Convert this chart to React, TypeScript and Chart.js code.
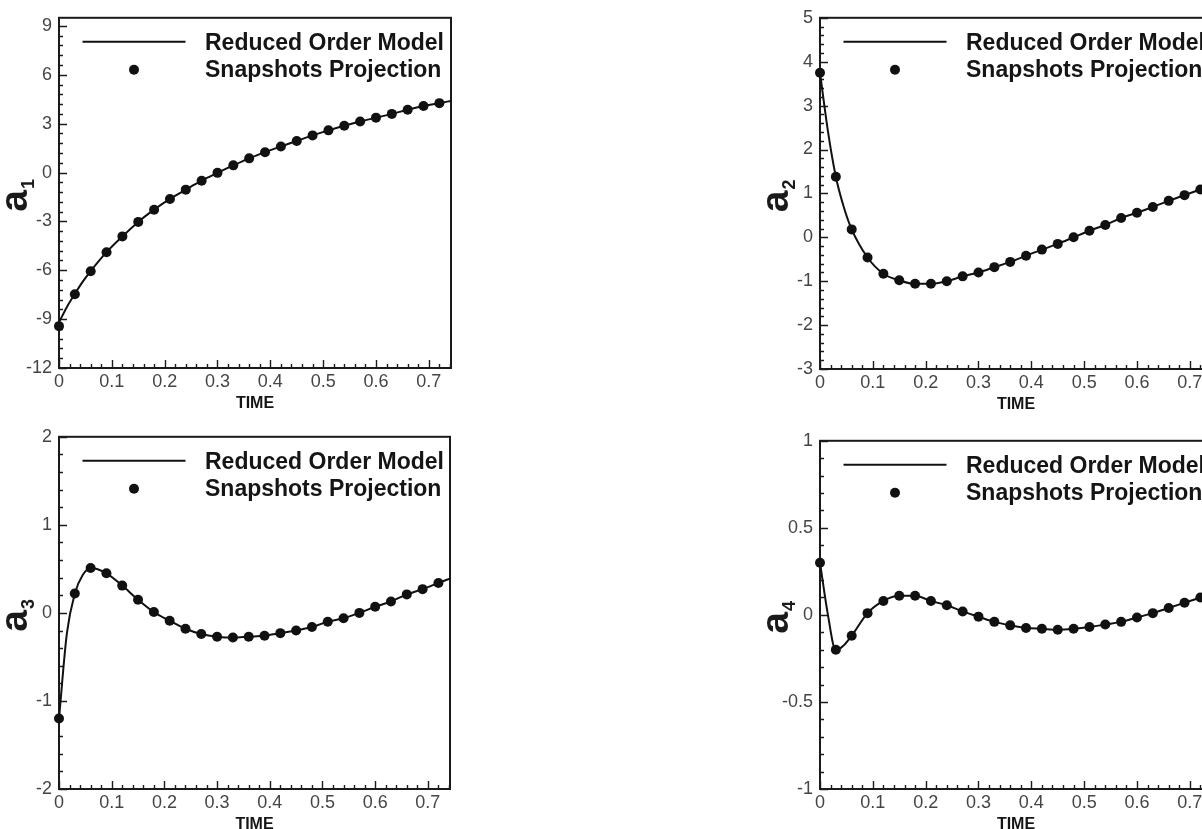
import React, { useEffect, useRef } from 'react';
import { Chart, registerables } from 'chart.js';

Chart.register(...registerables);

const FONT = '"Liberation Sans", Arial, Helvetica, sans-serif';

// ---------- data ----------
const snapshotTime = [0, 0.03, 0.06, 0.09, 0.12, 0.15, 0.18, 0.21, 0.24, 0.27, 0.3, 0.33, 0.36, 0.39, 0.42, 0.45, 0.48, 0.51, 0.54, 0.57, 0.6, 0.63, 0.66, 0.69, 0.72];

const snapA1 = [-9.43, -7.47, -6.06, -4.89, -3.92, -3.03, -2.28, -1.62, -1.05, -0.5, -0.02, 0.44, 0.87, 1.25, 1.6, 1.94, 2.28, 2.59, 2.87, 3.13, 3.37, 3.6, 3.86, 4.08, 4.26];
const snapA2 = [3.75, 1.38, 0.18, -0.46, -0.83, -0.98, -1.06, -1.06, -1.0, -0.89, -0.8, -0.68, -0.56, -0.42, -0.28, -0.15, 0.0, 0.15, 0.28, 0.44, 0.56, 0.69, 0.83, 0.96, 1.09];
const snapA3 = [-1.2, 0.22, 0.51, 0.45, 0.31, 0.15, 0.01, -0.09, -0.18, -0.24, -0.27, -0.28, -0.27, -0.26, -0.23, -0.2, -0.16, -0.1, -0.06, 0.0, 0.07, 0.13, 0.21, 0.27, 0.34];
const snapA4 = [0.3, -0.2, -0.12, 0.01, 0.08, 0.11, 0.11, 0.08, 0.055, 0.02, -0.01, -0.04, -0.06, -0.075, -0.08, -0.085, -0.08, -0.07, -0.055, -0.04, -0.015, 0.01, 0.04, 0.07, 0.1];

const romTime = [0, 0.015, 0.03, 0.045, 0.06, 0.09, 0.12, 0.15, 0.18, 0.21, 0.24, 0.27, 0.3, 0.33, 0.36, 0.39, 0.42, 0.45, 0.48, 0.51, 0.54, 0.57, 0.6, 0.63, 0.66, 0.69, 0.72, 0.742];
const romA1 = [-9.2, -8.25, -7.45, -6.7, -6.05, -4.89, -3.92, -3.03, -2.28, -1.62, -1.05, -0.5, -0.02, 0.44, 0.87, 1.25, 1.6, 1.94, 2.28, 2.59, 2.87, 3.13, 3.37, 3.6, 3.86, 4.08, 4.26, 4.4];
const romA2 = [3.75, 2.42, 1.38, 0.69, 0.18, -0.46, -0.83, -0.98, -1.06, -1.06, -1.0, -0.89, -0.8, -0.68, -0.56, -0.42, -0.28, -0.15, 0.0, 0.15, 0.28, 0.44, 0.56, 0.69, 0.83, 0.96, 1.09, 1.19];
const romA3 = [-1.2, -0.23, 0.22, 0.43, 0.51, 0.45, 0.31, 0.15, 0.01, -0.09, -0.18, -0.24, -0.27, -0.28, -0.27, -0.26, -0.23, -0.2, -0.16, -0.1, -0.06, 0.0, 0.07, 0.13, 0.21, 0.27, 0.34, 0.39];
const romA4 = [0.3, 0.0, -0.205, -0.175, -0.12, 0.01, 0.08, 0.11, 0.11, 0.08, 0.055, 0.02, -0.01, -0.04, -0.06, -0.075, -0.08, -0.085, -0.08, -0.07, -0.055, -0.04, -0.015, 0.01, 0.04, 0.07, 0.1, 0.125];

const legendLabels = ['Reduced Order Model', 'Snapshots Projection'];
const xTitle = 'TIME';

const xTickValues = [0, 0.1, 0.2, 0.3, 0.4, 0.5, 0.6, 0.7];
const xTickLabels = ['0', '0.1', '0.2', '0.3', '0.4', '0.5', '0.6', '0.7'];

const yTicksA1 = [-12, -9, -6, -3, 0, 3, 6, 9];
const yLabelsA1 = ['-12', '-9', '-6', '-3', '0', '3', '6', '9'];
const yTicksA2 = [-3, -2, -1, 0, 1, 2, 3, 4, 5];
const yLabelsA2 = ['-3', '-2', '-1', '0', '1', '2', '3', '4', '5'];
const yTicksA3 = [-2, -1, 0, 1, 2];
const yLabelsA3 = ['-2', '-1', '0', '1', '2'];
const yTicksA4 = [-1, -0.5, 0, 0.5, 1];
const yLabelsA4 = ['-1', '-0.5', '0', '0.5', '1'];

// ---------- layout ----------
const X_MIN = 0;
const X_MAX = 0.742;
const X_MINOR = 0.02;
const Y_AXIS_W = 59;
const PAD_TOP = 15;
const X_AXIS_H = 47;
const PAD_RIGHT = 20;

type PanelCfg = {
  key: string;
  sub: string;
  snap: number[];
  rom: number[];
  yMin: number;
  yMax: number;
  yTicks: number[];
  yLabels: string[];
  yMinor: number;
  rect: { left: number; top: number; right: number; bottom: number };
};

const PANELS: PanelCfg[] = [
  { key: 'a1', sub: '1', snap: snapA1, rom: romA1, yMin: -12, yMax: 9.5, yTicks: yTicksA1, yLabels: yLabelsA1, yMinor: 0.6, rect: { left: 59, top: 15, right: 451, bottom: 368 } },
  { key: 'a2', sub: '2', snap: snapA2, rom: romA2, yMin: -3, yMax: 5, yTicks: yTicksA2, yLabels: yLabelsA2, yMinor: 0.2, rect: { left: 820, top: 15, right: 1212, bottom: 369 } },
  { key: 'a3', sub: '3', snap: snapA3, rom: romA3, yMin: -2, yMax: 2, yTicks: yTicksA3, yLabels: yLabelsA3, yMinor: 0.2, rect: { left: 59, top: 434, right: 450, bottom: 789 } },
  { key: 'a4', sub: '4', snap: snapA4, rom: romA4, yMin: -1, yMax: 1, yTicks: yTicksA4, yLabels: yLabelsA4, yMinor: 0.1, rect: { left: 820, top: 438, right: 1212, bottom: 789 } },
];

// ---------- plugins ----------
const framePlugin = {
  id: 'frame',
  beforeDatasetsDraw(chart: any, _args: any, opts: any) {
    const { ctx, chartArea } = chart;
    const { left, top, right, bottom } = chartArea;
    const xs = chart.scales.x;
    const ys = chart.scales.y;
    ctx.save();
    ctx.strokeStyle = '#1c1c1c';
    ctx.lineWidth = 1.4;
    ctx.beginPath();
    for (let i = 0; ; i++) {
      const v = X_MIN + i * X_MINOR;
      if (v > X_MAX + 1e-9) break;
      const px = Math.round(xs.getPixelForValue(v)) + 0.5;
      const len = i % 5 === 0 ? 8 : 4;
      ctx.moveTo(px, bottom);
      ctx.lineTo(px, bottom - len);
    }
    for (let i = 0; ; i++) {
      const v = opts.yMin + i * opts.yMinor;
      if (v > opts.yMax + 1e-9) break;
      const py = Math.round(ys.getPixelForValue(v)) + 0.5;
      const len = i % 5 === 0 ? 8 : 4;
      ctx.moveTo(left, py);
      ctx.lineTo(left + len, py);
    }
    ctx.stroke();
    ctx.lineWidth = 2;
    ctx.strokeStyle = '#1a1a1a';
    ctx.strokeRect(left, top, right - left, bottom - top);
    ctx.restore();
  },
};

const insideLegendPlugin = {
  id: 'insideLegend',
  afterDatasetsDraw(chart: any) {
    const { ctx, chartArea } = chart;
    const { left, top } = chartArea;
    const ds = chart.data.datasets;
    ctx.save();
    ctx.strokeStyle = '#111';
    ctx.fillStyle = '#111';
    ctx.lineWidth = 2;
    ctx.beginPath();
    ctx.moveTo(left + 23.5, top + 24);
    ctx.lineTo(left + 126.5, top + 24);
    ctx.stroke();
    ctx.beginPath();
    ctx.arc(left + 75, top + 52, 5, 0, Math.PI * 2);
    ctx.fill();
    ctx.font = `bold 23px ${FONT}`;
    ctx.textAlign = 'left';
    ctx.textBaseline = 'alphabetic';
    ctx.fillStyle = '#151515';
    ctx.fillText(ds[0].label, left + 146, top + 32);
    ctx.fillText(ds[1].label, left + 146, top + 59.5);
    ctx.restore();
  },
};

const yTitlePlugin = {
  id: 'yTitle',
  afterDraw(chart: any, _args: any, opts: any) {
    const { ctx, chartArea } = chart;
    const cy = (chartArea.top + chartArea.bottom) / 2 + 3;
    const mainFont = `bold 39px ${FONT}`;
    const subFont = `bold 18px ${FONT}`;
    ctx.save();
    ctx.translate(chartArea.left - 32, cy);
    ctx.rotate(-Math.PI / 2);
    ctx.font = mainFont;
    const wMain = ctx.measureText(opts.main).width;
    ctx.font = subFont;
    const wSub = ctx.measureText(opts.sub).width;
    const total = wMain + wSub;
    ctx.fillStyle = '#1a1a1a';
    ctx.textAlign = 'left';
    ctx.textBaseline = 'alphabetic';
    ctx.font = mainFont;
    ctx.fillText(opts.main, -total / 2, 0);
    ctx.font = subFont;
    ctx.fillText(opts.sub, -total / 2 + wMain + 1, 7);
    ctx.restore();
  },
};

// ---------- chart component ----------
function PanelChart({ cfg }: { cfg: PanelCfg }) {
  const ref = useRef<HTMLCanvasElement | null>(null);
  const plotW = cfg.rect.right - cfg.rect.left;
  const plotH = cfg.rect.bottom - cfg.rect.top;
  const W = Y_AXIS_W + plotW + PAD_RIGHT;
  const H = PAD_TOP + plotH + X_AXIS_H;

  useEffect(() => {
    if (!ref.current) return;
    const tickFont = { family: FONT, size: 18 };
    const chart = new Chart(ref.current, {
      type: 'line',
      data: {
        datasets: [
          {
            type: 'line',
            label: legendLabels[0],
            data: romTime.map((t, i) => ({ x: t, y: cfg.rom[i] })),
            borderColor: '#111',
            borderWidth: 2,
            pointRadius: 0,
            fill: false,
            cubicInterpolationMode: 'monotone',
            order: 2,
          },
          {
            type: 'scatter',
            label: legendLabels[1],
            data: snapshotTime.map((t, i) => ({ x: t, y: cfg.snap[i] })),
            showLine: false,
            pointRadius: 5,
            pointBorderWidth: 0,
            pointBackgroundColor: '#111',
            pointBorderColor: '#111',
            clip: false,
            order: 1,
          },
        ],
      } as any,
      options: {
        responsive: false,
        animation: false,
        events: [],
        layout: { padding: { left: 0, top: PAD_TOP, right: PAD_RIGHT, bottom: 0 } },
        plugins: {
          legend: { display: false },
          tooltip: { enabled: false },
          frame: { yMin: cfg.yMin, yMax: cfg.yMax, yMinor: cfg.yMinor },
          yTitle: { main: 'a', sub: cfg.sub },
        } as any,
        scales: {
          x: {
            type: 'linear',
            min: X_MIN,
            max: X_MAX,
            afterBuildTicks: (s: any) => {
              s.ticks = xTickValues.map((v) => ({ value: v }));
            },
            afterFit: (s: any) => {
              s.height = X_AXIS_H;
            },
            grid: { display: false, drawTicks: false },
            border: { display: false },
            ticks: {
              autoSkip: false,
              maxRotation: 0,
              padding: 3,
              color: '#454545',
              font: tickFont,
              callback: (_v: any, i: number) => xTickLabels[i],
            },
            title: {
              display: true,
              text: xTitle,
              color: '#151515',
              font: { family: FONT, size: 16, weight: 'bold' },
              padding: { top: 0, bottom: 1.5 },
            },
          },
          y: {
            type: 'linear',
            min: cfg.yMin,
            max: cfg.yMax,
            afterBuildTicks: (s: any) => {
              s.ticks = cfg.yTicks.map((v) => ({ value: v }));
            },
            afterFit: (s: any) => {
              s.width = Y_AXIS_W;
            },
            grid: { display: false, drawTicks: false },
            border: { display: false },
            ticks: {
              autoSkip: false,
              padding: 7,
              color: '#454545',
              font: tickFont,
              callback: (_v: any, i: number) => cfg.yLabels[i],
            },
          },
        },
      } as any,
      plugins: [framePlugin, insideLegendPlugin, yTitlePlugin] as any,
    });
    return () => chart.destroy();
  }, [cfg]);

  return (
    <canvas
      ref={ref}
      width={W}
      height={H}
      style={{
        position: 'absolute',
        left: cfg.rect.left - Y_AXIS_W,
        top: cfg.rect.top - PAD_TOP,
        width: W,
        height: H,
      }}
    />
  );
}

export default function App() {
  return (
    <div
      style={{
        position: 'fixed',
        left: 0,
        top: 0,
        width: 1202,
        height: 829,
        overflow: 'hidden',
        background: '#ffffff',
      }}
    >
      {PANELS.map((p) => (
        <PanelChart key={p.key} cfg={p} />
      ))}
    </div>
  );
}
